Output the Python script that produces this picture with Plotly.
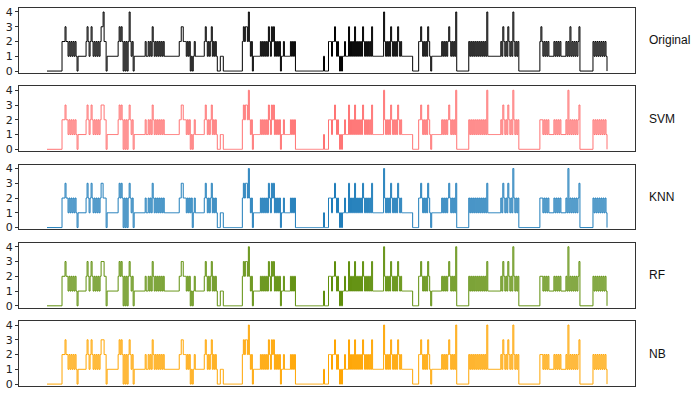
import plotly.graph_objects as go
from plotly.subplots import make_subplots

# Activity level sequences, one digit per sample (about one sample per pixel),
# read from the picture piece by piece.
ORIGINAL = (
    "000000000000000" "22" "232" "2121212121" "0" "11111111"
    "232123212121212334" "22" "0" "11111111111" "23232" "02020" "24" "212" "0" "1"
    "1111111111" "2" "11" "21213212121212121" "11111111111111" "223322" "2121201012"
    "111111111" "2321212312121" "0" "00" "111" "0000000000000000000" "2323324212" "0"
    "1111111" "21212121321323121212" "0" "112111111" "21212" "0000000000000000000000000000"
    "1" "0000" "22212232121" "010" "112111" "312121312121213212121213" "11111111111" "4"
    "212121321212132121" "1111111111" "000000" "223212121321" "0" "1111111111"
    "21212123212121" "4" "000000000000" "21212121212121" "212141" "111111111111"
    "213212132121421212" "000000000000000000000" "23"
    "21212121" "1111" "21212121" "1111" "21213121" "2121" "23" "0000000000000"
    "21212121212121" "0"
)
SVM = (
    "000000000000000" "22" "232" "2121212121" "0" "11111111"
    "232123212121212333" "22" "0" "11111111111" "23232" "02020" "23" "212" "0" "1"
    "1111111111" "2" "11" "21213212121212121" "11111111111111" "223322" "2121201012"
    "111111111" "2321212312121" "0" "00" "111" "0000000000000000000" "2323324212" "0"
    "1111111" "21212121321323121212" "0" "112111111" "21212" "0000000000000000000000000000"
    "1" "0000" "22212232121" "010" "112111" "312121312121213212121213" "11111111111" "4"
    "212121321212132121" "1111111111" "000000" "223212121321" "0" "1111111111"
    "21212123212121" "4" "000000000000" "21212121212121" "212141" "111111111111"
    "213212132121421212" "000000000000000000000" "22"
    "21212121" "1111" "21212121" "1111" "21412121" "2121" "23" "0000000000000"
    "21212121212121" "0"
)
KNN = (
    "000000000000000" "22" "232" "2121212121" "0" "11111111"
    "232123212121212332" "22" "0" "11111111111" "23232" "02020" "23" "212" "0" "1"
    "1111111111" "2" "11" "21213212121212121" "11111111111111" "223322" "2121212012"
    "111111111" "2321212312121" "0" "00" "111" "0000000000000000000" "2323324212" "0"
    "1111111" "21212121321323121212" "0" "112111111" "21212" "0000000000000000000000000000"
    "1" "0000" "22212232121" "010" "112111" "312121312121213212121213" "11111111111" "4"
    "212121321212132121" "1111111111" "000000" "223212121321" "0" "1111111111"
    "21212123212121" "3" "000000000000" "21212121212121" "212131" "111111111111"
    "213212132121421212" "000000000000000000000" "22"
    "21212121" "1111" "21212121" "1111" "21412121" "2121" "23" "0000000000000"
    "21212121212121" "0"
)
RF = (
    "000000000000000" "22" "232" "2121212121" "0" "11111111"
    "232123212121212333" "22" "0" "11111111111" "23232" "02020" "23" "212" "0" "1"
    "1111111111" "2" "11" "21213212121212121" "11111111111111" "223322" "2121201012"
    "111111111" "2321212312121" "0" "00" "111" "0000000000000000000" "2323324212" "0"
    "1111111" "21212121321323121212" "0" "112111111" "21212" "0000000000000000000000000000"
    "1" "0000" "22212232121" "010" "112111" "312121312121213212121213" "11111111111" "4"
    "212121321212132121" "1111111111" "000000" "223212121321" "0" "1111111111"
    "21212123212121" "4" "000000000000" "21212121212121" "212131" "111111111111"
    "213212132121421212" "000000000000000000000" "22"
    "21212121" "1111" "21212121" "1111" "21412121" "2121" "23" "0000000000000"
    "21212121212121" "0"
)
NB = (
    "000000000000000" "22" "232" "2121212121" "0" "11111111"
    "232123212121212333" "22" "0" "11111111111" "23232" "02020" "23" "212" "0" "1"
    "1111111111" "2" "11" "21213212121212121" "11111111111111" "223322" "2121201012"
    "111111111" "2321212312121" "0" "00" "111" "0000000000000000000" "2323324212" "0"
    "1111111" "21212121321323121212" "0" "112111111" "21212" "0000000000000000000000000000"
    "1" "0000" "22212232121" "010" "112111" "312121312121213212121213" "11111111111" "4"
    "212121321212132121" "1111111111" "000000" "223212121321" "0" "1111111111"
    "21212123212121" "4" "000000000000" "21212121212121" "212141" "111111111111"
    "213212132121421212" "000000000000000000000" "22"
    "21212121" "1111" "21212121" "1111" "21412121" "2121" "23" "0000000000000"
    "21212121212121" "0"
)

NAMES = ["Original", "SVM", "KNN", "RF", "NB"]
SERIES = [ORIGINAL, SVM, KNN, RF, NB]
COLORS = ["#000000", "#FF7373", "#1F7DBA", "#5E8E0A", "#FFA500"]
Y_TICKS = [0, 1, 2, 3, 4]

fig = make_subplots(rows=5, cols=1, vertical_spacing=13.5 / 384)

for r, (name, s, c) in enumerate(zip(NAMES, SERIES, COLORS), start=1):
    vals = [int(ch) for ch in s]
    fig.add_trace(go.Scatter(x=list(range(len(vals))), y=vals, mode="lines",
                             line=dict(color=c, width=1, shape="hv"),
                             name=name, showlegend=False), row=r, col=1)

n = len(ORIGINAL)
# plot area px 19..635; data from px 47 to 607
scale = (n - 1) / (607 - 47)
xr = [(19 - 47) * scale, (635 - 47) * scale]

axis_col = "#333333"
for r in range(1, 6):
    fig.update_xaxes(range=xr, showticklabels=False, ticks="", showgrid=False, zeroline=False,
                     showline=True, mirror=True, linecolor=axis_col, linewidth=1.2, row=r, col=1)
    fig.update_yaxes(range=[-0.13, 4.27], tickvals=Y_TICKS, ticks="outside", ticklen=3,
                     tickcolor=axis_col, tickfont=dict(size=11, color="#222222", family="DejaVu Sans"),
                     showgrid=False, zeroline=False, showline=True, mirror=True,
                     linecolor=axis_col, linewidth=1.2, row=r, col=1)

panel_h = 66
pitch = 79.5
for i, name in enumerate(NAMES):
    yc = 6 + i * pitch + panel_h / 2
    fig.add_annotation(xref="paper", yref="paper", x=(647 - 19) / 616, y=(390 - yc) / 384,
                       text=name, showarrow=False, xanchor="left", yanchor="middle",
                       font=dict(size=12, color="#111111", family="Liberation Sans"))

fig.update_layout(width=693, height=397, margin=dict(l=19, r=58, t=6, b=7),
                  plot_bgcolor="white", paper_bgcolor="white", showlegend=False)

fig.write_html("out.html")
